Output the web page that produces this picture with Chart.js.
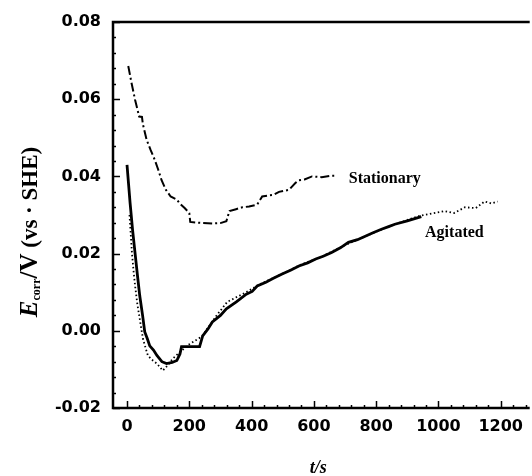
<!DOCTYPE html>
<html>
<head>
<meta charset="utf-8">
<script src="https://cdn.jsdelivr.net/npm/chart.js@4.4.1/dist/chart.umd.min.js"></script>
<style>
  html, body { margin: 0; padding: 0; background: #fff; overflow: hidden; }
  #wrap { width: 532px; height: 476px; position: relative; }
</style>
</head>
<body>
<div id="wrap"><canvas id="ecorrChart"></canvas></div>
<script>
// values (t in s, E in V vs SHE)
const stationaryT = [4, 15, 26, 39, 48, 51, 63, 76, 89, 100, 111, 125, 140, 160, 169, 185, 200, 203, 230, 274, 300, 319, 325, 329, 350, 370, 392, 418, 434, 450, 470, 488, 520, 542, 552, 570, 594, 625, 658, 670];
const stationaryE = [0.0686, 0.064, 0.0598, 0.0555, 0.0554, 0.0535, 0.0495, 0.0468, 0.0443, 0.0418, 0.039, 0.0365, 0.0348, 0.034, 0.033, 0.0318, 0.0305, 0.0282, 0.028, 0.0278, 0.0279, 0.0284, 0.030, 0.031, 0.0315, 0.032, 0.0322, 0.0327, 0.0348, 0.0350, 0.0352, 0.036, 0.0365, 0.0384, 0.039, 0.0392, 0.040, 0.0398, 0.0402, 0.0402];

const agitatedT = [0, 5, 10, 18, 26, 34, 41, 50, 57, 65, 73, 85, 96, 112, 127, 145, 160, 170, 175, 200, 233, 243, 260, 274, 300, 319, 351, 383, 402, 418, 446, 470, 498, 525, 552, 580, 606, 630, 657, 685, 711, 740, 765, 790, 817, 840, 860, 900, 945];
const agitatedE = [0.043, 0.038, 0.033, 0.026, 0.020, 0.014, 0.009, 0.004, -0.0003, -0.002, -0.0039, -0.005, -0.0064, -0.008, -0.0085, -0.0082, -0.0077, -0.006, -0.0041, -0.0041, -0.0041, -0.0013, 0.0005, 0.0023, 0.004, 0.0057, 0.0075, 0.0095, 0.0102, 0.0116, 0.0126, 0.0136, 0.0147, 0.0157, 0.0168, 0.0176, 0.0186, 0.0193, 0.0203, 0.0215, 0.0229, 0.0236, 0.0245, 0.0254, 0.0263, 0.0270, 0.0276, 0.0285, 0.0296];

const agitated2T = [8, 12, 16, 21, 26, 33, 41, 46, 51, 58, 67, 80, 96, 115, 130, 147, 170, 200, 240, 287, 322, 383, 430, 500, 560, 620, 700, 780, 860, 940, 1020, 1050, 1085, 1120, 1148, 1170, 1190];
const agitated2E = [0.030, 0.025, 0.020, 0.0155, 0.0116, 0.007, 0.003, 0.0005, -0.002, -0.004, -0.0064, -0.0075, -0.0085, -0.0103, -0.009, -0.0072, -0.0055, -0.0035, -0.0015, 0.0039, 0.0075, 0.010, 0.0122, 0.0148, 0.0172, 0.019, 0.0222, 0.025, 0.0276, 0.0298, 0.031, 0.0305, 0.032, 0.0318, 0.0335, 0.033, 0.0335];

const xTickLabels = [0, 200, 400, 600, 800, 1000, 1200];
const yTickLabels = [-0.02, 0.00, 0.02, 0.04, 0.06, 0.08];

// curve labels: text, t, E at the left/middle of the text
const curveLabels = [
    { text: 'Stationary', t: 712, e: 0.0394 },
    { text: 'Agitated', t: 957, e: 0.0255 }
];

function toPoints(ts, es) {
    return ts.map((t, i) => ({ x: t, y: es[i] }));
}

// inward ticks, frame, axis titles and curve labels
const decorPlugin = {
    id: 'decor',
    afterDraw(chart) {
        const c = chart.ctx;
        const area = chart.chartArea;
        const xs = chart.scales.x;
        const ys = chart.scales.y;
        c.save();
        c.strokeStyle = '#000';
        c.lineWidth = 1.5;
        // x ticks every 40 s, long ones every 200
        for (let t = 0; t <= 1280; t += 40) {
            const px = Math.round(xs.getPixelForValue(t)) + 0.5;
            const len = t % 200 === 0 ? 7 : 3;
            c.beginPath();
            c.moveTo(px, area.bottom);
            c.lineTo(px, area.bottom - len);
            c.stroke();
        }
        // y ticks every 0.004, long ones every 0.02
        for (let k = 0; k <= 25; k++) {
            const v = -0.02 + k * 0.004;
            const py = Math.round(ys.getPixelForValue(v)) + 0.5;
            const len = k % 5 === 0 ? 7 : 3;
            c.beginPath();
            c.moveTo(area.left, py);
            c.lineTo(area.left + len, py);
            c.stroke();
        }
        // frame (right side falls outside the picture)
        c.lineWidth = 2.5;
        c.beginPath();
        c.moveTo(area.right, area.top);
        c.lineTo(area.left, area.top);
        c.lineTo(area.left, area.bottom);
        c.lineTo(area.right, area.bottom);
        c.stroke();

        // curve labels
        c.fillStyle = '#000';
        c.font = 'bold 16px "Liberation Serif", serif';
        c.textBaseline = 'middle';
        c.textAlign = 'left';
        curveLabels.forEach(l => {
            c.fillText(l.text, xs.getPixelForValue(l.t), ys.getPixelForValue(l.e));
        });

        // x title
        c.textAlign = 'center';
        c.textBaseline = 'alphabetic';
        c.font = 'italic bold 18px "Liberation Serif", serif';
        c.fillText('t/s', (area.left + area.right) / 2 - 3, 473);

        // y title, rotated, E with subscript corr
        c.translate(37, 232);
        c.rotate(-Math.PI / 2);
        const parts = [
            { s: 'E', f: 'italic bold 25px "Liberation Serif", serif', dy: 0 },
            { s: 'corr', f: 'bold 12px "Liberation Serif", serif', dy: 3 },
            { s: '/V', f: 'bold 25px "Liberation Serif", serif', dy: 0 },
            { s: ' (vs \u00b7 SHE)', f: 'bold 23px "Liberation Serif", serif', dy: 0 }
        ];
        let total = 0;
        parts.forEach(p => { c.font = p.f; p.w = c.measureText(p.s).width; total += p.w; });
        let x0 = -total / 2;
        c.textAlign = 'left';
        parts.forEach(p => {
            c.font = p.f;
            c.fillText(p.s, x0, p.dy);
            x0 += p.w;
        });
        c.restore();
    }
};

document.addEventListener('DOMContentLoaded', function() {
    const ctx = document.getElementById('ecorrChart').getContext('2d');
    const tickFont = { family: '"DejaVu Sans", sans-serif', size: 16, weight: 'bold' };

    new Chart(ctx, {
        type: 'line',
        data: {
            datasets: [{
                label: 'Stationary',
                data: toPoints(stationaryT, stationaryE),
                borderColor: '#000',
                borderWidth: 2,
                borderDash: [9, 3, 2, 3],
                pointRadius: 0,
                tension: 0
            }, {
                label: 'Agitated',
                data: toPoints(agitatedT, agitatedE),
                borderColor: '#000',
                borderWidth: 2.8,
                pointRadius: 0,
                tension: 0
            }, {
                label: 'Agitated (2)',
                data: toPoints(agitated2T, agitated2E),
                borderColor: '#000',
                borderWidth: 1.8,
                borderDash: [1.5, 2.5],
                pointRadius: 0,
                tension: 0
            }]
        },
        options: {
            responsive: true,
            maintainAspectRatio: false,
            animation: false,
            layout: { padding: { top: 22, right: 0, left: 0, bottom: 0 } },
            plugins: {
                legend: { display: false },
                tooltip: { enabled: false }
            },
            scales: {
                x: {
                    type: 'linear',
                    min: -45,
                    max: 1293,
                    grid: { display: false, drawTicks: false },
                    border: { display: false },
                    afterBuildTicks: scale => { scale.ticks = xTickLabels.map(v => ({ value: v })); },
                    afterFit: scale => { scale.height = 68; },
                    ticks: {
                        autoSkip: false,
                        maxRotation: 0,
                        padding: 9,
                        color: '#000',
                        font: tickFont,
                        callback: v => String(v)
                    }
                },
                y: {
                    type: 'linear',
                    min: -0.02,
                    max: 0.08,
                    grid: { display: false, drawTicks: false },
                    border: { display: false },
                    afterBuildTicks: scale => { scale.ticks = yTickLabels.map(v => ({ value: v })); },
                    afterFit: scale => { scale.width = 113; },
                    ticks: {
                        padding: 12,
                        color: '#000',
                        font: tickFont,
                        callback: v => v.toFixed(2)
                    }
                }
            }
        },
        plugins: [decorPlugin]
    });
});
</script>
</body>
</html>
